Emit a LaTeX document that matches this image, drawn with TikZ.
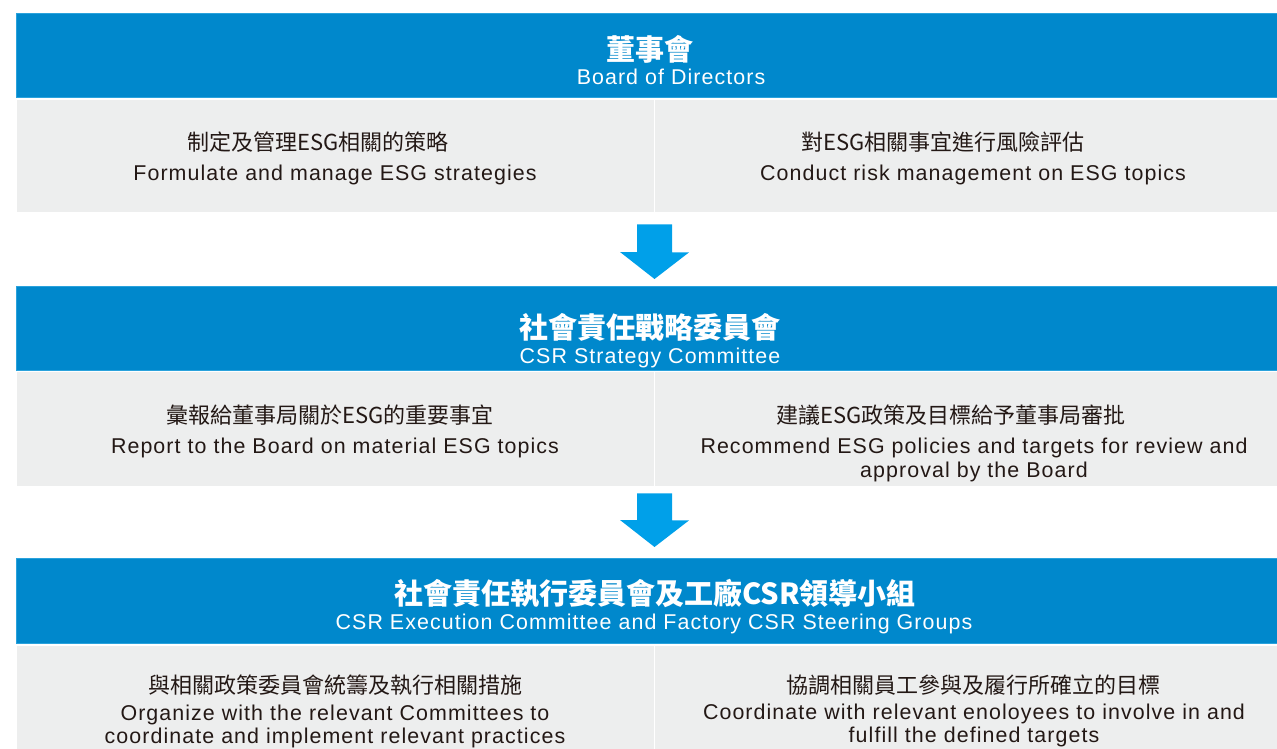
\documentclass[tikz,border=0pt]{standalone}
\usepackage{fontspec}
\setmainfont{Liberation Sans}[LetterSpace=5]
\newfontfamily\cjk{Noto Sans CJK TC}
\usetikzlibrary{calc}
\definecolor{hdr}{HTML}{0088CC}
\definecolor{hdrline}{HTML}{2AA2DC}
\definecolor{panel}{HTML}{EDEEEE}
\definecolor{arr}{HTML}{00A0E9}
\definecolor{txt}{HTML}{231815}
\begin{document}
\begin{tikzpicture}[x=1pt,y=-1pt,
  hdrbox/.style={fill=hdr, draw=hdrline, line width=0.8pt, inner sep=0pt, anchor=north west, minimum width=1261pt},
  panelbox/.style={fill=panel, inner sep=0pt, anchor=north west, minimum width=1260pt},
  divider/.style={white, line width=1.6pt},
  blockarrow/.style={fill=arr},
  title/.style={text=white, font=\cjk\bfseries\fontsize{29}{31}\selectfont, inner sep=0pt},
  sub/.style={text=white, font=\fontsize{21.4}{24}\selectfont, inner sep=0pt, anchor=base},
  zh/.style={text=txt, font=\cjk\fontsize{22}{24}\selectfont, inner sep=0pt},
  en/.style={text=txt, font=\fontsize{21.4}{24}\selectfont, inner sep=0pt, anchor=base},
  ]
\useasboundingbox (0,0) rectangle (1277,749);
\coordinate (d) at (654.5,0);
% --- level 1
\node[hdrbox, minimum height=84pt] (h1) at (16,13) {};
\node[panelbox, minimum height=112pt] (p1) at (17,100) {};
\draw[divider] (p1.north -| d) -- (p1.south -| d);
\node[title] (t1) at (650,49) {董事會};
\node[sub] (s1) at (671,84.5) {Board of Directors};
\node[zh] (z1a) at (318,142) {制定及管理ESG相關的策略};
\node[en] (e1a) at (335,180) {Formulate and manage ESG strategies};
\node[zh] (z1b) at (943,142) {對ESG相關事宜進行風險評估};
\node[en] (e1b) at (973,180) {Conduct risk management on ESG topics};
% --- level 2
\node[hdrbox, minimum height=83.5pt] (h2) at (16,286) {};
\node[panelbox, minimum height=114pt] (p2) at (17,372) {};
\draw[divider] (p2.north -| d) -- (p2.south -| d);
\node[title] (t2) at (650,327) {社會責任戰略委員會};
\node[sub] (s2) at (650,363) {CSR Strategy Committee};
\node[zh] (z2a) at (330,415) {彙報給董事局關於ESG的重要事宜};
\node[en] (e2a) at (335,453) {Report to the Board on material ESG topics};
\node[zh] (z2b) at (951,415) {建議ESG政策及目標給予董事局審批};
\node[en] (e2b) at (974,453) {Recommend ESG policies and targets for review and};
\node[en] (e2c) at (974,477) {approval by the Board};
% --- level 3
\node[hdrbox, minimum height=85pt] (h3) at (16,558) {};
\node[panelbox, minimum height=110pt] (p3) at (17,646) {};
\draw[divider] (p3.north -| d) -- (p3.south -| d);
\node[title] (t3) at (655,594) {社會責任執行委員會及工廠CSR領導小組};
\node[sub] (s3) at (654,629) {CSR Execution Committee and Factory CSR Steering Groups};
\node[zh] (z3a) at (335,685.5) {與相關政策委員會統籌及執行相關措施};
\node[en] (e3a) at (335,720) {Organize with the relevant Committees to};
\node[en] (e3b) at (335,743.5) {coordinate and implement relevant practices};
\node[zh] (z3b) at (973,685) {協調相關員工參與及履行所確立的目標};
\node[en] (e3c) at (974,719.5) {Coordinate with relevant enoloyees to involve in and};
\node[en] (e3d) at (974,742) {fulfill the defined targets};
% --- arrows
\fill[blockarrow] ($(p1.south -| d)+(-17.5,12)$) -- ++(35,0) -- ++(0,28) -- ++(17,0)
  -- ($(h2.north -| d)+(0,-7)$) -- ++(-34.5,-27) -- ++(17,0) -- cycle;
\fill[blockarrow] ($(p2.south -| d)+(-17.5,7)$) -- ++(35,0) -- ++(0,27) -- ++(17,0)
  -- ($(h3.north -| d)+(0,-11)$) -- ++(-34.5,-27) -- ++(17,0) -- cycle;
\end{tikzpicture}
\end{document}
